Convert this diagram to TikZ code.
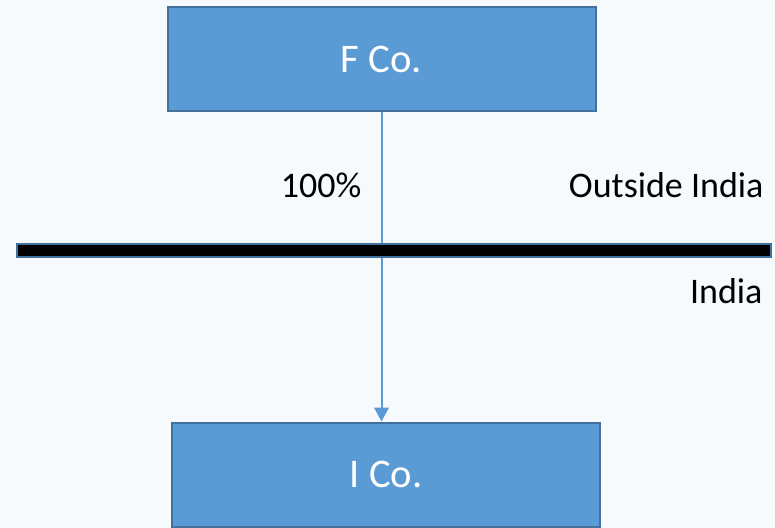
\documentclass[tikz,border=0pt]{standalone}
\usepackage{fontspec}
\setmainfont{Carlito}
\usetikzlibrary{arrows.meta}
\definecolor{bgcol}{RGB}{247,250,253}
\definecolor{boxfill}{RGB}{91,155,213}
\definecolor{boxline}{RGB}{65,113,156}
\tikzset{every picture/.style={line width=0.75pt}}
\tikzset{
  cobox/.style={draw=boxline, fill=boxfill, line width=1.5pt, text=white,
    minimum width=321pt, minimum height=78pt, inner sep=0pt,
    font=\fontsize{30.5}{36}\selectfont},
  zonelabel/.style={inner sep=0pt, font=\fontsize{27}{32}\selectfont}
}

\begin{document}
\begin{tikzpicture}[x=0.75pt,y=0.75pt,yscale=-1,xscale=1]
	%background, sets the size of the page
	\fill [bgcol] (0,0) rectangle (775,528);
	\useasboundingbox (0,0) rectangle (775,528);

	% Boxes
	\node [cobox] (fco) at (381.5,59) {F Co.};
	\node [cobox] (ico) at (386,474.5) {I Co.};

	%Straight Lines, holding
	\draw [boxfill, line width=1.5pt, -{Triangle[width=11pt,length=10.5pt]}] (fco.south) -- (fco.south |- ico.north);

	%Border line
	\draw [boxline, fill=black, line width=1.5pt] (17,244) rectangle (771,257);

	% Text Node
	\node [zonelabel, anchor=base] (pct) at (321,197) {100\%};
	% Text Node
	\node [zonelabel, anchor=base east] (outside) at (764,197) {Outside India};
	% Text Node
	\node [zonelabel, anchor=base east] (inside) at (763,303) {India};
\end{tikzpicture}
\end{document}
